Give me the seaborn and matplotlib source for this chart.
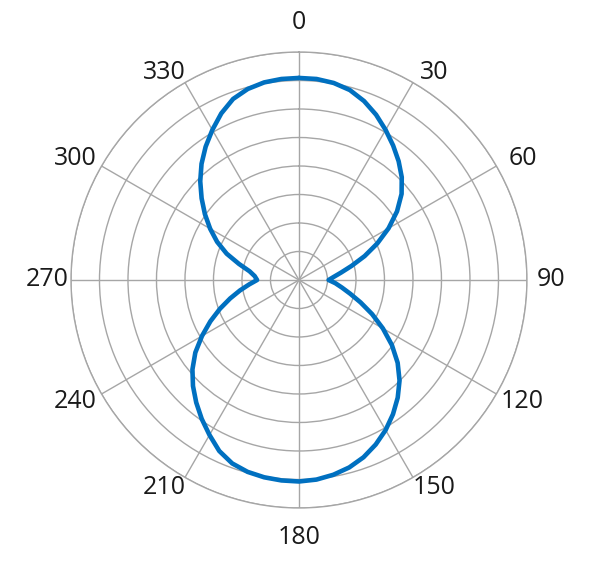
import numpy as np
import pandas as pd
import matplotlib.pyplot as plt
import seaborn as sns

angles_deg = list(range(0, 360, 5))
radius = [7.09, 7.08, 7.02, 6.90, 6.68, 6.40, 6.08, 5.76, 5.44, 5.10, 4.70, 4.20,
          3.63, 3.03, 2.45, 1.91, 1.50, 1.22, 1.04, 1.28, 1.53, 1.86, 2.30, 2.83,
          3.40, 3.98, 4.52, 4.99, 5.39, 5.75, 6.08, 6.37, 6.62, 6.81, 6.94, 7.03,
          7.07, 7.06, 7.03, 6.97, 6.85, 6.62, 6.28, 5.95, 5.61, 5.26, 4.88, 4.44,
          3.93, 3.43, 2.95, 2.50, 2.10, 1.75, 1.47, 1.56, 1.76, 2.18, 2.70, 3.17,
          3.60, 4.03, 4.46, 4.90, 5.32, 5.71, 6.08, 6.45, 6.76, 6.94, 7.04, 7.08]
tick_deg = list(range(0, 360, 30))
tick_labels = [str(t) for t in tick_deg]
rings = list(range(1, 9))

sns.set_theme(style="white")
plt.rcParams['font.family'] = ['Open Sans', 'DejaVu Sans']

# close the loop
df = pd.DataFrame({'angle': np.deg2rad(angles_deg + [360]),
                   'r': radius + radius[:1]})

fig = plt.figure(figsize=(6, 5.61), dpi=100)
ax = fig.add_axes([0.1183, 0.0945, 0.76, 0.8128], projection='polar')
ax.set_theta_zero_location('N')
ax.set_theta_direction(-1)

sns.lineplot(data=df, x='angle', y='r', sort=False, estimator=None,
             ax=ax, color='#0070C0', linewidth=3.3)

ax.set_ylim(0, 8)
ax.set_yticks(rings)
ax.set_yticklabels([])
ax.set_xticks(np.deg2rad(tick_deg))
ax.set_xticklabels([])
ax.grid(True, color='#a6a6a6', linewidth=1)
ax.spines['polar'].set_color('#a6a6a6')
ax.spines['polar'].set_linewidth(1)
ax.set_xlabel('')
ax.set_ylabel('')

# angle labels centred just outside the outer ring, nudged toward the horizontal
for t, lab in zip(tick_deg, tick_labels):
    fold = 90 - abs(90 - (t % 180))
    r_lab = np.interp(fold, [0, 30, 60, 90], [9.05, 8.68, 8.93, 8.84])
    shift = np.interp(fold, [0, 30, 60, 90], [0, 3.0, 1.4, 0])
    t_lab = t + shift * np.sign(np.round(np.sin(np.deg2rad(2 * t)), 6))
    ax.text(np.deg2rad(t_lab), r_lab, lab, ha='center', va='center',
            fontsize=18, color='#1a1a1a', clip_on=False)

fig.savefig('out.png', dpi=100)
